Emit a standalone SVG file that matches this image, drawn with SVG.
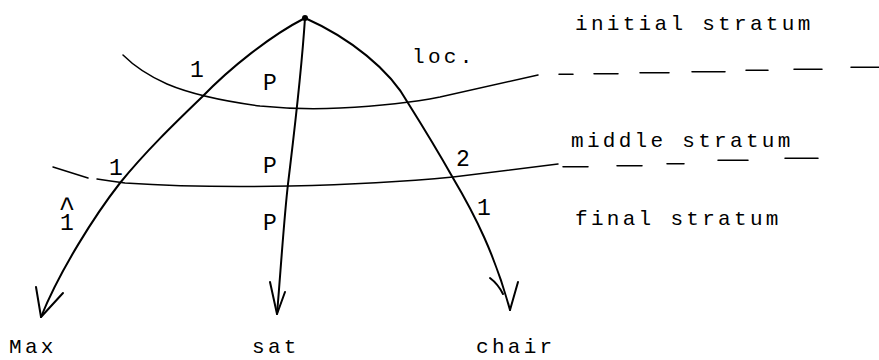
<svg xmlns="http://www.w3.org/2000/svg" width="879" height="360" viewBox="0 0 879 360">
<style>
.arc{fill:none;stroke:#000;stroke-width:2;stroke-linecap:round;stroke-linejoin:round}
.str{fill:none;stroke:#000;stroke-width:1.5;stroke-linecap:round}
.lbl{font-family:"Liberation Mono",monospace;font-size:21px;letter-spacing:3.3px;fill:#000}
.rel{font-family:"Liberation Mono",monospace;font-size:23px;fill:#000}
</style>
<rect width="879" height="360" fill="#fff"/>
<g id="connectors">
  <path class="arc" d="M305,18 C270,36 230,68 202,97 C175,123 145,152 120,183 C95,215 60,270 41,317"/>
  <path class="arc" d="M305,18 C301,80 292,150 288,184 S280,280 277,314"/>
  <path class="arc" d="M305,18 C350,38 390,70 408,103 C425,130 440,155 453,178 C475,215 495,255 510,310"/>
  <path class="arc" d="M36,287 L41,317 L63,293"/>
  <path class="arc" d="M270,282 L277,314 L285,292"/>
  <path class="arc" d="M490,278 Q498,284 503,294"/>
  <path class="arc" stroke-width="2.6" d="M518,282 L510,310"/>
</g>
<g id="initial-stratum-line">
  <path class="str" d="M123,55 Q140,72 167,84 Q200,98 260,106 Q300,110 340,108 Q400,105 440,97 Q490,86 538,75"/>
  <path class="str" d="M559,74.3 L573,74.3 M594,73.7 L618,73.7 M640,72.7 L669,72.7 M692,71.7 L725,71.7 M746,70.3 L768,70.3 M794,69.3 L822,69.3 M851,67.3 L879,67.3"/>
</g>
<g id="middle-stratum-line">
  <path class="str" d="M53,167 L88,178"/>
  <path class="str" d="M97,179 Q110,181 125,183 Q200,188 290,186 Q380,184 453,177 Q510,170 558,164"/>
  <path class="str" d="M563,166.7 L588,166.7 M617,165.7 L642,165.7 M667,163.7 L684,163.7 M718,160.3 L748,160.3 M785,158.3 L818,158.3"/>
</g>
<g id="root">
  <circle cx="305" cy="18" r="3" fill="#000"/>
</g>
<g id="labels">
  <text class="rel" x="190" y="77">1</text>
  <text class="rel" x="263" y="90">P</text>
  <text class="lbl" x="412" y="63">loc.</text>
  <text class="rel" x="109" y="175">1</text>
  <text class="rel" x="263" y="173">P</text>
  <text class="rel" x="456" y="166">2</text>
  <text class="rel" x="60" y="230">1<tspan x="58.6" y="216" font-size="28">^</tspan></text>
  <text class="rel" x="263" y="230">P</text>
  <text class="rel" x="477" y="215">1</text>
</g>
<g id="stratum-labels">
  <text class="lbl" x="575" y="30">initial stratum</text>
  <text class="lbl" x="571" y="147">middle stratum</text>
  <text class="lbl" x="575" y="225">final stratum</text>
</g>
<g id="node-max"><text class="lbl" x="9" y="353">Max</text></g>
<g id="node-sat"><text class="lbl" x="252" y="353">sat</text></g>
<g id="node-chair"><text class="lbl" x="476" y="353">chair</text></g>
</svg>
